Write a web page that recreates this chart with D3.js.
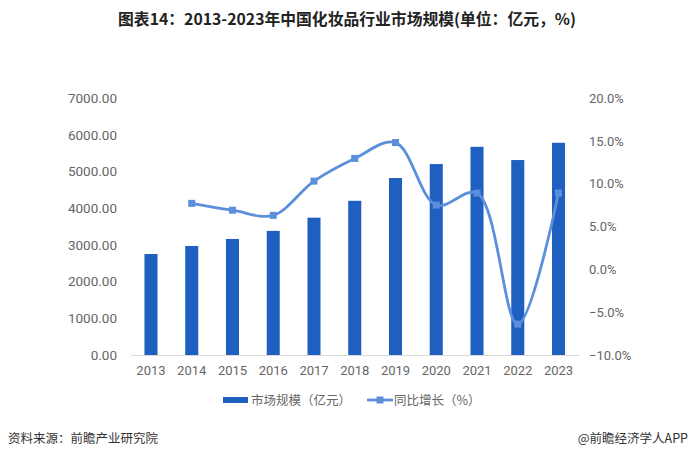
<!DOCTYPE html>
<html><head><meta charset="utf-8">
<script src="https://cdn.jsdelivr.net/npm/d3@7"></script>
<style>body{margin:0;background:#fff;}svg{display:block;}</style>
</head><body>
<svg id="c" width="690" height="461"></svg>
<script>
const years = ["2013","2014","2015","2016","2017","2018","2019","2020","2021","2022","2023"];
const marketSize = [2750, 2970, 3160, 3380, 3740, 4200, 4820, 5200, 5670, 5310, 5780];
const growth = [null, 7.7, 6.9, 6.3, 10.3, 12.95, 14.8, 7.5, 8.9, -6.4, 8.9];
const leftTicks = [0,1000,2000,3000,4000,5000,6000,7000];
const rightTicks = [-10,-5,0,5,10,15,20];
const title = "图表14：2013-2023年中国化妆品行业市场规模(单位：亿元，%)";
const legendLabels = ["市场规模（亿元）","同比增长（%）"];
const source = "资料来源：前瞻产业研究院";
const credit = "@前瞻经济学人APP";

const svg = d3.select("#c");
const font = "'Noto Sans CJK SC','Noto Sans',sans-serif";
const barColor = "#1F5FBF", lineColor = "#5B8FDB", tickColor = "#666666";
const numFont = "Roboto, 'Noto Sans', sans-serif";

const x = d3.scaleBand().domain(years).range([130.6, 578.9]).paddingInner(0.68).paddingOuter(0.34);
const yL = d3.scaleLinear().domain([0,7000]).range([355,98]);
const yR = d3.scaleLinear().domain([-10,20]).range([355,98]);

svg.append("text").attr("x",347).attr("y",25).attr("text-anchor","middle")
  .attr("font-family",font).attr("font-weight","bold").attr("font-size",15.8).attr("fill","#222")
  .text(title);

// left axis
const gL = svg.append("g").attr("transform","translate(117,0)")
  .call(d3.axisLeft(yL).tickValues(leftTicks).tickFormat(d=>d3.format(".2f")(d)).tickSize(0).tickPadding(0));
gL.select(".domain").remove();
gL.selectAll("text").attr("font-family",numFont).attr("font-size",13.5).attr("fill",tickColor);

// right axis
const gR = svg.append("g").attr("transform","translate(589,0)")
  .call(d3.axisRight(yR).tickValues(rightTicks).tickFormat(d=>d3.format(".1f")(d)+"%").tickSize(0).tickPadding(0));
gR.select(".domain").remove();
gR.selectAll("text").attr("font-family",numFont).attr("font-size",13).attr("fill",tickColor);

// bars
svg.append("g").selectAll("rect").data(years).join("rect")
  .attr("x",d=>x(d)).attr("width",x.bandwidth())
  .attr("y",(d,i)=>yL(marketSize[i])).attr("height",(d,i)=>yL(0)-yL(marketSize[i]))
  .attr("fill",barColor);

// x axis
const gX = svg.append("g").attr("transform","translate(0,355)")
  .call(d3.axisBottom(x).tickSize(0).tickPadding(11));
gX.select(".domain").attr("stroke","#d9d9d9").attr("stroke-width",1);
gX.selectAll("text").attr("font-family",numFont).attr("font-size",13).attr("fill",tickColor);

// line
const pts = years.map((d,i)=>({x:x(d)+x.bandwidth()/2, v:growth[i]})).filter(p=>p.v!==null);
const line = d3.line().x(p=>p.x).y(p=>yR(p.v)).curve(d3.curveCatmullRom.alpha(0.5));
svg.append("path").datum(pts).attr("d",line).attr("fill","none")
  .attr("stroke",lineColor).attr("stroke-width",2.8);
svg.append("g").selectAll("rect").data(pts).join("rect")
  .attr("x",p=>p.x-3.5).attr("y",p=>yR(p.v)-3.5).attr("width",7).attr("height",7)
  .attr("fill",lineColor);

// legend
const lg = svg.append("g");
lg.append("rect").attr("x",223).attr("y",397).attr("width",25).attr("height",6).attr("fill",barColor);
lg.append("text").attr("x",251).attr("y",404.5).attr("font-family",font).attr("font-size",12.5).attr("fill",tickColor).text(legendLabels[0]);
lg.append("line").attr("x1",367).attr("x2",393).attr("y1",400).attr("y2",400).attr("stroke",lineColor).attr("stroke-width",2.8);
lg.append("rect").attr("x",376.5).attr("y",396.5).attr("width",7).attr("height",7).attr("fill",lineColor);
lg.append("text").attr("x",394).attr("y",404.5).attr("font-family",font).attr("font-size",12.5).attr("fill",tickColor).text(legendLabels[1]);

// footer
svg.append("text").attr("x",8).attr("y",443).attr("font-family",font).attr("font-size",12.5).attr("fill","#333").text(source);
svg.append("text").attr("x",688).attr("y",443).attr("text-anchor","end").attr("font-family",font).attr("font-size",12.5).attr("fill","#333").text(credit);
</script>
</body></html>
